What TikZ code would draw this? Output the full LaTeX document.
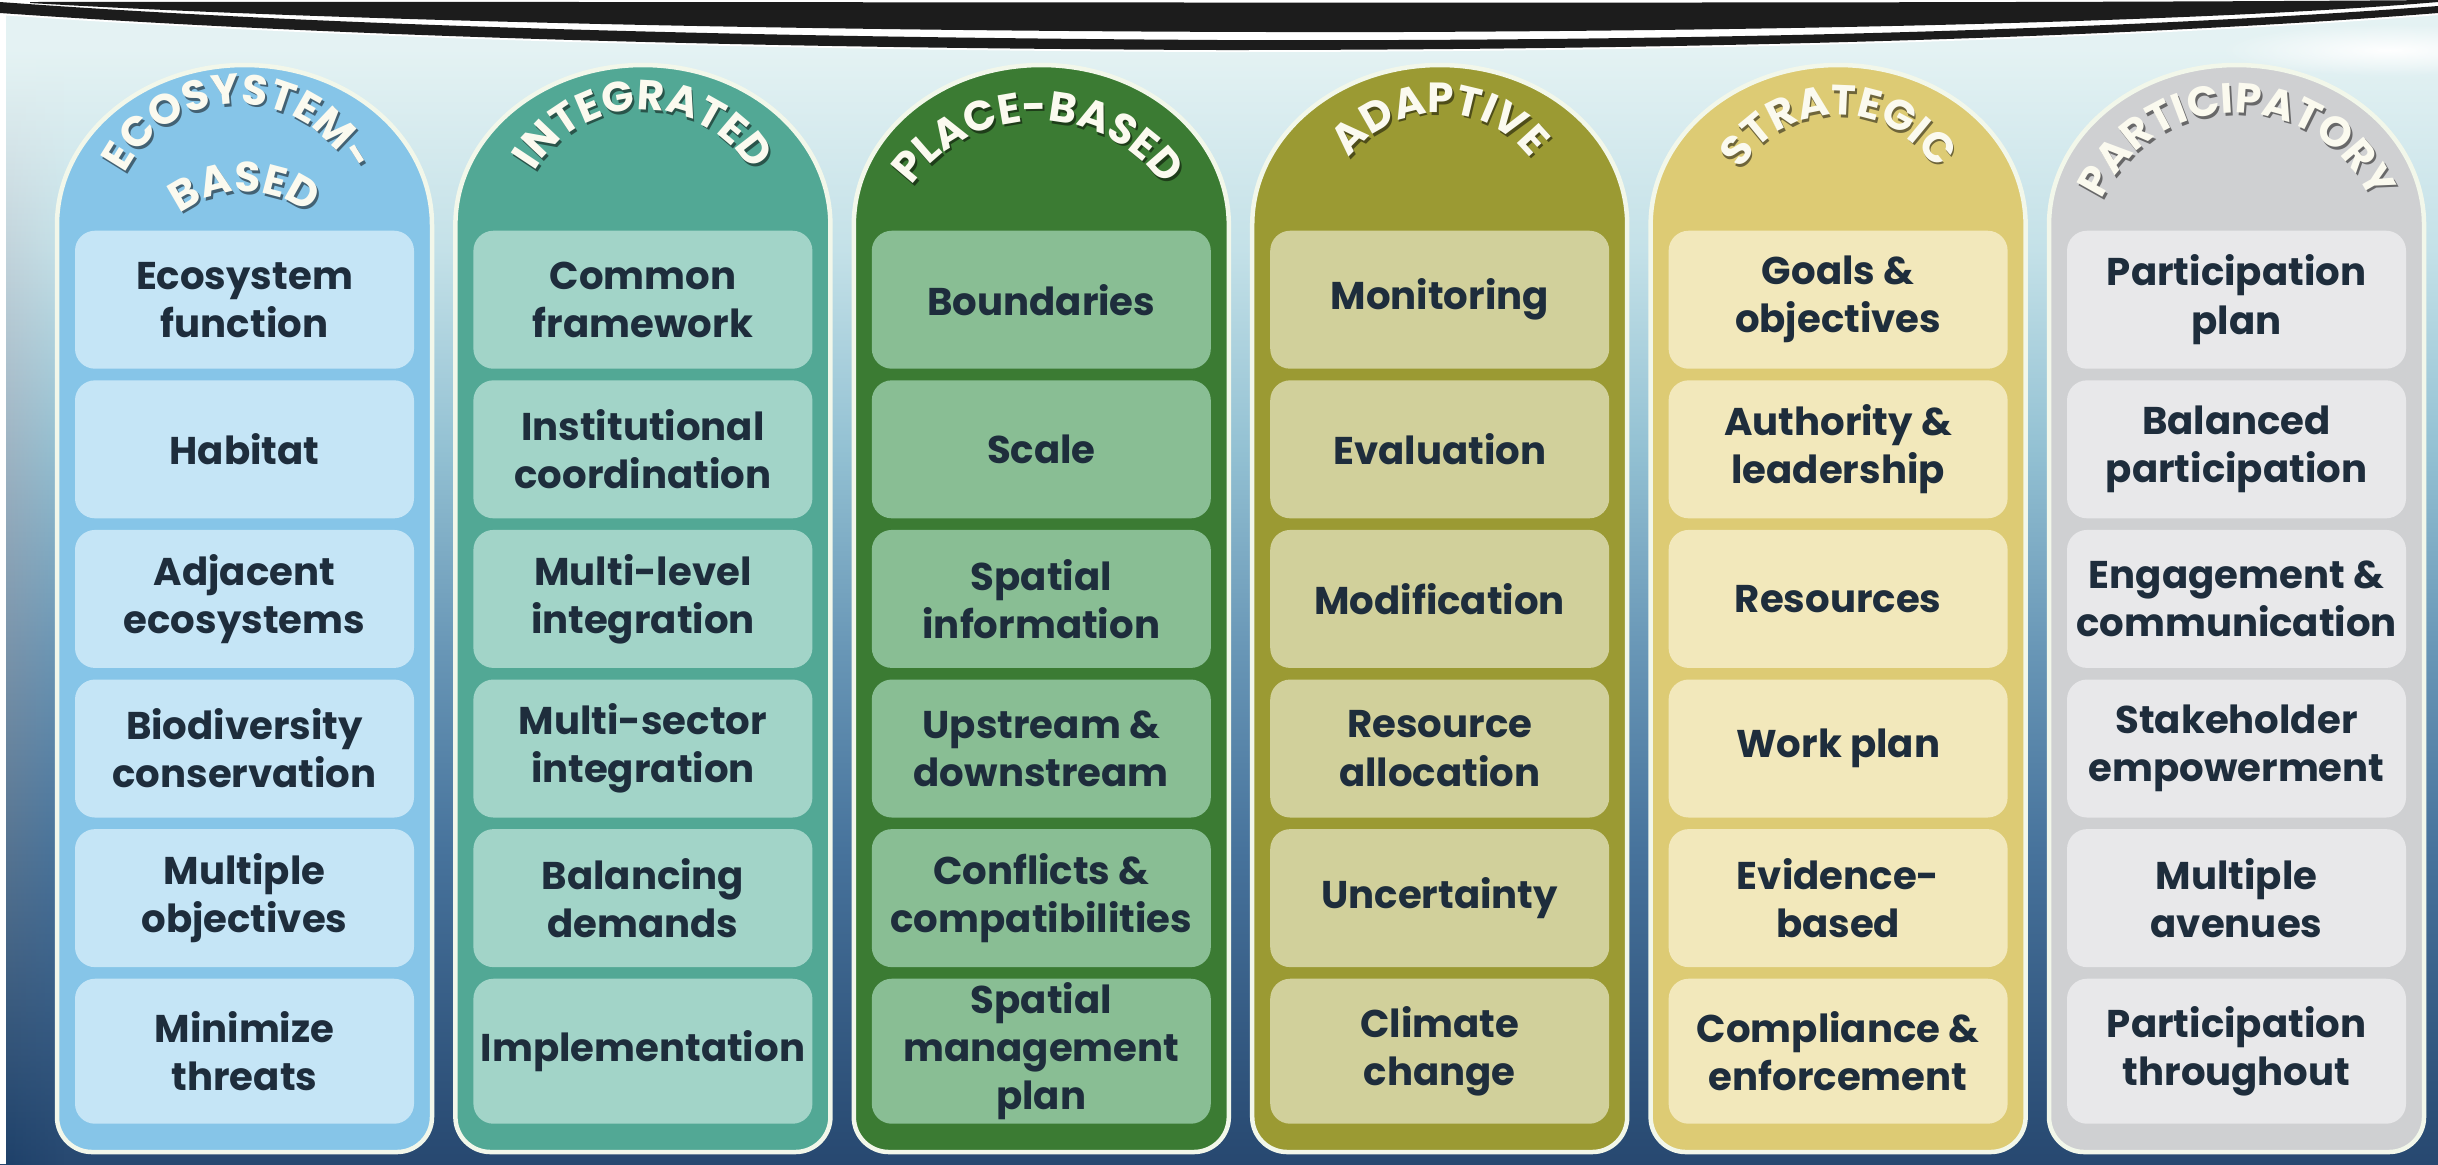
\documentclass[tikz,border=0pt]{standalone}
\usepackage{fontspec}
\setmainfont{Poppins}
\newfontfamily\hdrfam{Poppins}[LetterSpace=6.0]
\usetikzlibrary{decorations.text,fadings}

% palette
\definecolor{bgA}{HTML}{E4F2F3}
\definecolor{bgB}{HTML}{C4E1E8}
\definecolor{bgC}{HTML}{93C1D3}
\definecolor{bgD}{HTML}{6896B6}
\definecolor{bgE}{HTML}{47739C}
\definecolor{bgF}{HTML}{274870}
\definecolor{edge}{HTML}{1E416A}
\definecolor{edgemid}{HTML}{3E6A92}
\definecolor{swoosh}{HTML}{1C1C1C}
\definecolor{rim}{HTML}{F2F7EA}
\definecolor{ink}{HTML}{1E2D3C}
\definecolor{hdr}{HTML}{FBFAEF}
\definecolor{colA}{HTML}{86C5E8}\definecolor{boxA}{HTML}{C5E5F6}
\definecolor{colB}{HTML}{52A895}\definecolor{boxB}{HTML}{A2D4C8}
\definecolor{colC}{HTML}{3B7B33}\definecolor{boxC}{HTML}{89BE94}
\definecolor{colD}{HTML}{9B9A33}\definecolor{boxD}{HTML}{D1D09B}
\definecolor{colE}{HTML}{DDCB74}\definecolor{boxE}{HTML}{F2E8BB}
\definecolor{colF}{HTML}{CFD0D2}\definecolor{boxF}{HTML}{E8E8EA}

\pgfdeclareverticalshading{sea}{100bp}{color(0bp)=(bgF); color(25bp)=(bgF);
  color(38.5bp)=(bgE); color(47bp)=(bgD); color(55.7bp)=(bgC);
  color(64.3bp)=(bgB); color(72.9bp)=(bgA); color(100bp)=(bgA)}

\tikzfading[name=glow, inner color=transparent!0, outer color=transparent!100]

\newcommand\cellfont{\fontsize{11pt}{13.7pt}\selectfont\bfseries}
\newcommand\hdrfont{\fontsize{12pt}{14pt}\selectfont\hdrfam\bfseries}

\tikzset{
  cell/.style={rounded corners=2mm, minimum width=33.9mm, minimum height=13.8mm,
    align=center, text=ink, font=\cellfont, inner sep=0pt, anchor=north},
  pillarbody/.style={draw=rim, line width=0.45mm}
}

% one column: #1 left edge, #2 column colour, #3 cell colour, #4 name prefix, #5 cell texts
\newcommand\pillar[5]{%
  \pgfmathsetmacro\pcx{#1+187.5}
  \fill[#2, pillarbody] (#1,225)
    arc[start angle=180, end angle=360, x radius=187.5, y radius=160]
    -- (#1+375,1117) arc[start angle=0, end angle=90, radius=35]
    -- (#1+35,1152) arc[start angle=90, end angle=180, radius=35] -- cycle;
  \foreach \txt [count=\r] in {#5}{%
    \pgfmathsetmacro\ty{230+149.6*(\r-1)}
    \pgfmathsetmacro\th{\r==6 ? 14.5 : 13.8}
    \node[cell, fill=#3, minimum height=\th mm] (#4-\r) at (\pcx,\ty) {\txt};
  }
}

% curved title: #1 centre x, #2 baseline apex y, #3 radius, #4 word
\newcommand\archword[4]{%
  \path[decorate, decoration={text along path, text align=center,
      text={|\hdrfont\color{hshadow}|#4}}]
    (#1-#3+1.8,#2+#3+2.6) arc[start angle=180, end angle=360, radius=#3];
  \path[decorate, decoration={text along path, text align=center,
      text={|\hdrfont\color{hdr}|#4}}]
    (#1-#3,#2+#3) arc[start angle=180, end angle=360, radius=#3];
}

\begin{document}
\begin{tikzpicture}[x=0.1mm, y=-0.1mm]
\useasboundingbox (0,0) rectangle (2438,1164);

% sea-coloured backdrop
\shade[shading=sea] (0,0) rectangle (2438,1164);
\shade[top color=bgA, middle color=edgemid, bottom color=edge, path fading=east]
  (6,60) rectangle (64,1164);
\fill[white] (0,0) rectangle (6,1164);

% black swoosh along the top
\fill[white] (0,0) -- (2438,0) -- (2438,15)
  .. controls (2200,34) and (1800,52) .. (1220,52)
  .. controls (700,50) and (300,36) .. (0,15) -- cycle;
\fill[white, path fading=glow] (2390,50) ellipse [x radius=170, y radius=26];
\fill[swoosh] (0,2) .. controls (300,24) and (700,37) .. (1220,40)
  .. controls (1800,42) and (2200,24) .. (2438,6)
  -- (2438,13) .. controls (2200,32) and (1800,50) .. (1220,50)
  .. controls (700,48) and (300,34) .. (0,13) -- cycle;
\fill[swoosh] (30,2) .. controls (600,1) and (1800,5) .. (2438,0)
  -- (2438,2) .. controls (2250,18) and (1900,30) .. (1400,32)
  .. controls (900,33) and (350,22) .. (30,3) -- cycle;

% the six columns
\pillar{57}{colA}{boxA}{eco}{{Ecosystem\\function},{Habitat},{Adjacent\\ecosystems},
  {Biodiversity\\conservation},{Multiple\\objectives},{Minimize\\threats}}
\pillar{455.4}{colB}{boxB}{int}{{Common\\framework},{Institutional\\coordination},
  {Multi-level\\integration},{Multi-sector\\integration},{Balancing\\demands},{Implementation}}
\pillar{853.8}{colC}{boxC}{pla}{{Boundaries},{Scale},{Spatial\\information},
  {Upstream \&\\downstream},{Conflicts \&\\compatibilities},{Spatial\\management\\plan}}
\pillar{1252.2}{colD}{boxD}{ada}{{Monitoring},{Evaluation},{Modification},
  {Resource\\allocation},{Uncertainty},{Climate\\change}}
\pillar{1650.6}{colE}{boxE}{str}{{Goals \&\\objectives},{Authority \&\\leadership},
  {Resources},{Work plan},{Evidence-\\based},{Compliance \&\\enforcement}}
\pillar{2049}{colF}{boxF}{par}{{Participation\\plan},{Balanced\\participation},
  {Engagement \&\\communication},{Stakeholder\\empowerment},{Multiple\\avenues},
  {Participation\\throughout}}

% curved column titles
\colorlet{hshadow}{colA!50!black}
\archword{238}{104}{126}{ECOSYSTEM-}
\archword{244.5}{192}{105}{BASED}
\colorlet{hshadow}{colB!50!black}
\archword{642.9}{110}{126}{INTEGRATED}
\colorlet{hshadow}{colC!50!black}
\archword{1038}{121}{155}{PLACE-BASED}
\colorlet{hshadow}{colD!50!black}
\archword{1439.7}{113}{113}{ADAPTIVE}
\colorlet{hshadow}{colE!50!black}
\archword{1838.1}{115}{114}{STRATEGIC}
\colorlet{hshadow}{colF!50!black}
\archword{2236.5}{113}{147}{PARTICIPATORY}
\end{tikzpicture}
\end{document}
